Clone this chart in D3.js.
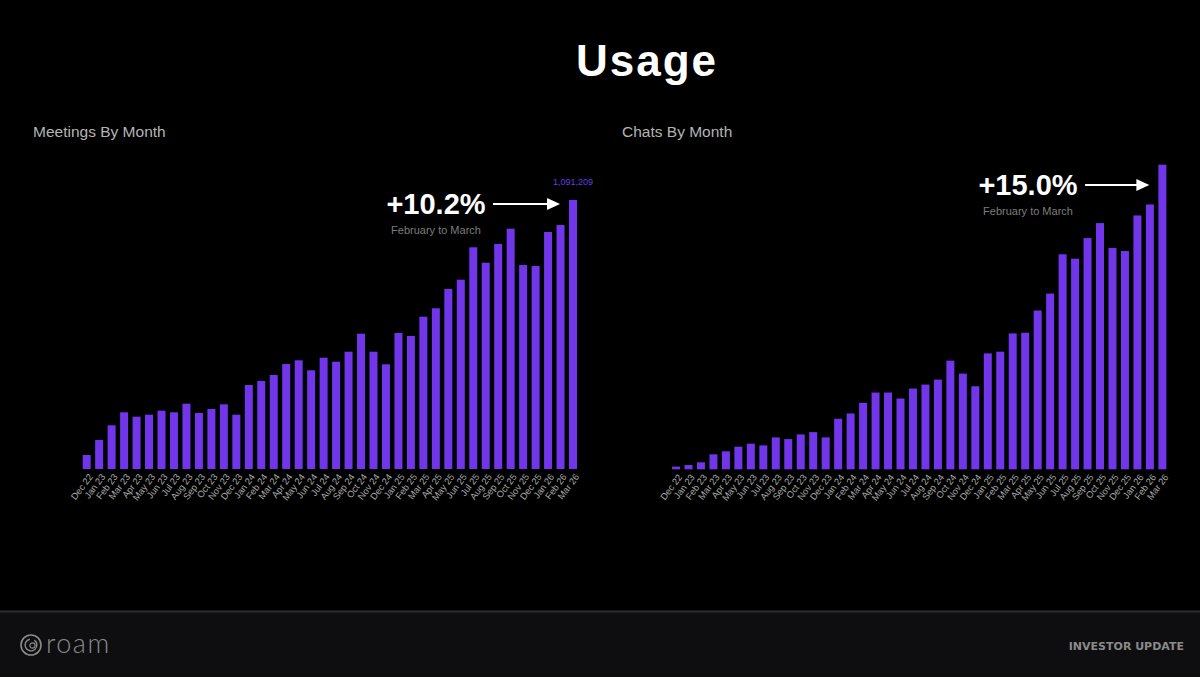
<!DOCTYPE html>
<html>
<head>
<meta charset="utf-8">
<script src="https://cdn.jsdelivr.net/npm/d3@7"></script>
<style>
  html, body { margin: 0; padding: 0; background: #000; }
  svg { display: block; }
</style>
</head>
<body>
<svg id="chart" width="1200" height="677"></svg>
<script>
// ---- Data ----
const months = ["Dec 22","Jan 23","Feb 23","Mar 23","Apr 23","May 23","Jun 23","Jul 23","Aug 23","Sep 23","Oct 23","Nov 23","Dec 23",
  "Jan 24","Feb 24","Mar 24","Apr 24","May 24","Jun 24","Jul 24","Aug 24","Sep 24","Oct 24","Nov 24","Dec 24",
  "Jan 25","Feb 25","Mar 25","Apr 25","May 25","Jun 25","Jul 25","Aug 25","Sep 25","Oct 25","Nov 25","Dec 25",
  "Jan 26","Feb 26","Mar 26"];

const meetings = [56800,117600,177300,230000,212200,220300,236500,230000,264900,227200,243400,262500,220300,
  340700,357000,381300,425900,440900,400400,451500,435300,475800,548800,475800,424700,
  551700,539500,617800,651900,730200,767900,899300,836900,912700,974800,827500,823500,
  961400,990200,1091209];

const chats = [13500,21500,35000,75000,90000,113500,128500,120000,160000,151500,175000,186500,160000,
  253500,280000,333500,385000,385000,355000,405000,425000,450000,545000,480000,416500,
  581500,590000,681500,685000,796500,881500,1078500,1056500,1160000,1235000,1110000,1095000,
  1273500,1328500,1528000];

const meetingsTitle = "Meetings By Month";
const chatsTitle = "Chats By Month";
const meetingsGrowth = "+10.2%";
const chatsGrowth = "+15.0%";
const growthNote = "February to March";

// ---- Drawing ----
const svg = d3.select("#chart");
const barColor = "#7136ea";
const FONT = "'Liberation Sans', Arial, Helvetica, sans-serif";

svg.append("rect").attr("width", 1200).attr("height", 677).attr("fill", "#000");

// Title
svg.append("text").attr("x", 647).attr("y", 76).attr("text-anchor", "middle")
  .attr("font-family", FONT).attr("font-weight", "bold").attr("font-size", 44)
  .attr("letter-spacing", 2).attr("fill", "#fff").text("Usage");

function drawPanel(opt) {
  const g = svg.append("g");
  g.append("text").attr("x", opt.titleX).attr("y", 137)
    .attr("font-family", FONT).attr("font-size", 15.5).attr("fill", "#b4b4b4")
    .text(opt.title);

  const x = d3.scaleBand().domain(months).range(opt.xRange)
    .paddingInner(0.36).paddingOuter(0.18);
  const y = d3.scaleLinear().domain([0, d3.max(opt.values)]).range([opt.base, opt.top]);

  g.selectAll("rect.bar").data(opt.values).enter().append("rect")
    .attr("class", "bar")
    .attr("x", (d, i) => x(months[i]))
    .attr("width", x.bandwidth())
    .attr("y", d => y(d))
    .attr("height", d => opt.base - y(d))
    .attr("fill", barColor);

  const axis = d3.axisBottom(x).tickSize(0).tickPadding(0);
  const ax = g.append("g").attr("transform", `translate(0,${opt.base})`).call(axis);
  ax.select(".domain").remove();
  ax.selectAll("text")
    .attr("font-family", FONT).attr("font-size", 9.3).attr("fill", "#a8a8a8")
    .attr("text-anchor", "end")
    .attr("dy", "0.35em")
    .attr("transform", "translate(4,6) rotate(-53)");

  const last = opt.values.length - 1;
  const lastX = x(months[last]) + x.bandwidth() / 2;
  if (opt.valueLabel) {
    g.append("text").attr("x", lastX).attr("y", y(opt.values[last]) - 15)
      .attr("text-anchor", "middle").attr("font-family", FONT).attr("font-size", 9)
      .attr("fill", "#6a3be0").text(d3.format(",")(opt.values[last]));
  }

  // Annotation
  const ann = g.append("g");
  ann.append("text").attr("x", opt.annX).attr("y", opt.annY)
    .attr("text-anchor", "middle").attr("font-family", FONT).attr("font-weight", "bold")
    .attr("font-size", 29).attr("fill", "#fff").text(opt.growth);
  ann.append("text").attr("x", opt.annX).attr("y", opt.annY + 20)
    .attr("text-anchor", "middle").attr("font-family", FONT).attr("font-size", 11)
    .attr("fill", "#7d7d7d").text(growthNote);
  const ay = opt.annY - 10;
  const ax1 = opt.annX + 57, ax2 = lastX - 13;
  ann.append("line").attr("x1", ax1).attr("x2", ax2 - 8).attr("y1", ay).attr("y2", ay)
    .attr("stroke", "#fff").attr("stroke-width", 2);
  ann.append("path").attr("d", `M${ax2},${ay} L${ax2 - 13},${ay - 6} L${ax2 - 13},${ay + 6} Z`)
    .attr("fill", "#fff");
}

drawPanel({ title: meetingsTitle, titleX: 33, values: meetings, xRange: [80.45, 579.25],
  base: 469, top: 200, valueLabel: true, growth: meetingsGrowth, annX: 436, annY: 214 });
drawPanel({ title: chatsTitle, titleX: 622, values: chats, xRange: [669.8, 1168.6],
  base: 469.3, top: 164.7, valueLabel: false, growth: chatsGrowth, annX: 1028, annY: 195 });

// Footer
svg.append("rect").attr("x", 0).attr("y", 611).attr("width", 1200).attr("height", 66).attr("fill", "#0e0e10");
svg.append("line").attr("x1", 0).attr("x2", 1200).attr("y1", 611.5).attr("y2", 611.5)
  .attr("stroke", "#2c2c30").attr("stroke-width", 2);

const logo = svg.append("g").attr("transform", "translate(31,645)");
logo.append("circle").attr("r", 10).attr("fill", "none").attr("stroke", "#8a8a8a").attr("stroke-width", 1.6);
logo.append("path").attr("d", d3.arc()({ innerRadius: 5.2, outerRadius: 6.6, startAngle: 0.6, endAngle: 2 * Math.PI - 0.2 }))
  .attr("fill", "#8a8a8a");
logo.append("circle").attr("cx", 1.5).attr("cy", 0.5).attr("r", 2.6).attr("fill", "none").attr("stroke", "#8a8a8a").attr("stroke-width", 1.2);
svg.append("text").attr("x", 46).attr("y", 653).attr("font-family", "'Lato', 'DejaVu Sans', sans-serif")
  .attr("font-weight", 300).attr("font-size", 27).attr("letter-spacing", 1.5)
  .attr("fill", "#8a8a8a").text("roam");

svg.append("text").attr("x", 1184).attr("y", 650).attr("text-anchor", "end")
  .attr("font-family", "'DejaVu Sans', sans-serif").attr("font-weight", "bold").attr("font-size", 11)
  .attr("letter-spacing", 0).attr("fill", "#8a8a8a").text("INVESTOR UPDATE");
</script>
</body>
</html>
